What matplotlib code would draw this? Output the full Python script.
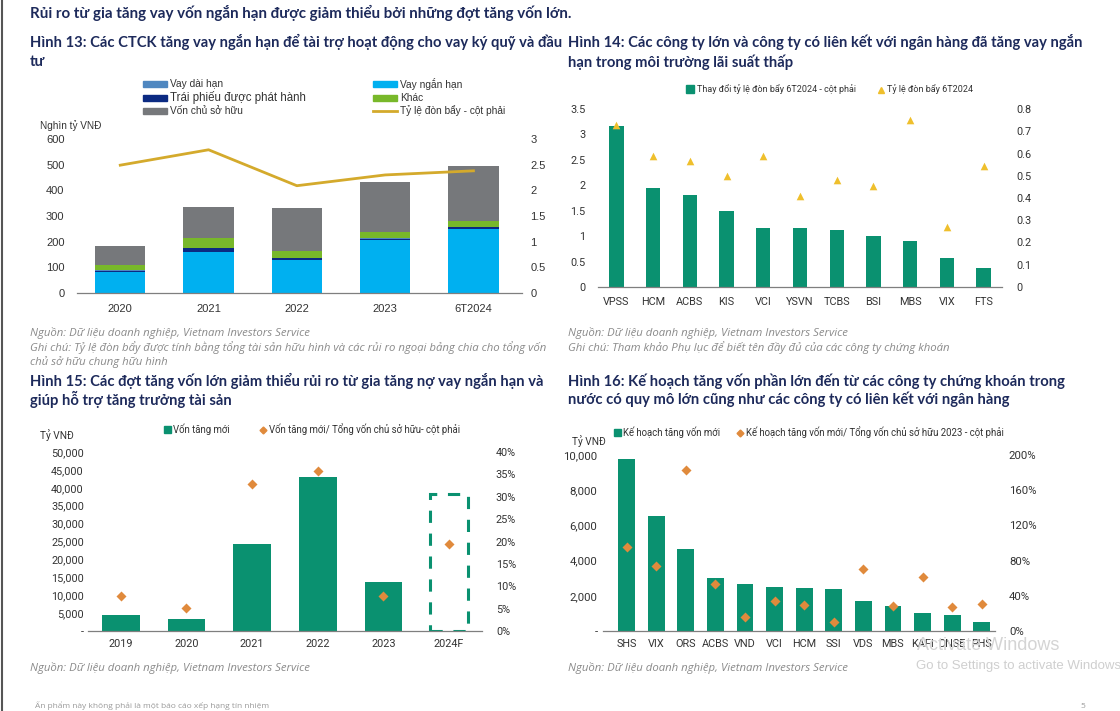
import matplotlib
matplotlib.use("Agg")
import matplotlib.pyplot as plt
from matplotlib.patches import Rectangle
from matplotlib.lines import Line2D
from matplotlib.ticker import FuncFormatter
import numpy as np

W, H = 1120, 711
plt.rcParams['font.family'] = ['Open Sans', 'DejaVu Sans']

# ---------------- data ----------------
# Hình 13
years13 = ['2020', '2021', '2022', '2023', '6T2024']
vay_dai_han = [1, 1, 1, 1, 1]
vay_ngan_han = [80, 158, 127, 205, 250]
trai_phieu = [7, 17, 9, 7, 8]
khac = [21, 40, 27, 26, 23]
von_csh = [74, 118, 168, 194, 214]
don_bay = [2.49, 2.79, 2.09, 2.30, 2.38]

# Hình 14
cos14 = ['VPSS', 'HCM', 'ACBS', 'KIS', 'VCI', 'YSVN', 'TCBS', 'BSI', 'MBS', 'VIX', 'FTS']
thay_doi_db = [3.16, 1.95, 1.81, 1.49, 1.16, 1.16, 1.12, 1.01, 0.90, 0.58, 0.38]
ty_le_db = [0.73, 0.59, 0.567, 0.50, 0.59, 0.41, 0.48, 0.455, 0.75, 0.27, 0.545]

# Hình 15
years15 = ['2019', '2020', '2021', '2022', '2023', '2024F']
von_tang_moi = [4400, 3300, 24250, 43000, 13600, 0]
von_tang_ratio = [0.078, 0.051, 0.328, 0.357, 0.079, 0.194]
forecast_box = 38300

# Hình 16
cos16 = ['SHS', 'VIX', 'ORS', 'ACBS', 'VND', 'VCI', 'HCM', 'SSI', 'VDS', 'MBS', 'KAFI', 'DNSE', 'PHS']
ke_hoach = [9770, 6530, 4650, 3020, 2680, 2490, 2450, 2370, 1730, 1440, 1030, 910, 510]
ke_hoach_ratio = [0.953, 0.744, 1.825, 0.535, 0.163, 0.338, 0.30, 0.106, 0.706, 0.288, 0.615, 0.273, 0.311]

# ---------------- styles ----------------
NAVY_T = '#1d2a5b'
GRAY_T = '#8a8a8a'
TICK_C = '#333333'
GREEN = '#0a9170'
ORANGE = '#e08a3c'
YELLOW = '#efbf2c'

fig = plt.figure(figsize=(W / 100, H / 100), dpi=100)
fig.patch.set_facecolor('white')


def ax_px(l, t, r, b):
    return fig.add_axes([l / W, 1 - b / H, (r - l) / W, (b - t) / H])


def txt(x, y, s, **kw):
    kw.setdefault('va', 'center')
    fig.text(x / W, 1 - y / H, s, **kw)


def title(x, y, s, size=10.6):
    txt(x, y, s, fontsize=size, fontweight='bold', color=NAVY_T, family=['Lato', 'DejaVu Sans'])


def source(x, y, s):
    txt(x, y, s, fontsize=8.2, style='italic', color=GRAY_T)


def style_axes(ax, ax2, fam, fs=8):
    for a in (ax, ax2):
        for s in ('top', 'left', 'right', 'bottom'):
            a.spines[s].set_visible(False)
        a.tick_params(length=0, labelsize=fs, colors=TICK_C)
        for lab in a.get_xticklabels() + a.get_yticklabels():
            lab.set_family(fam)
    ax.axhline(0, color='#7f7f7f', lw=0.9, zorder=5, clip_on=False)


# header
title(30, 13, 'Rủi ro từ gia tăng vay vốn ngắn hạn được giảm thiểu bởi những đợt tăng vốn lớn.', size=10.9)

# ---------------- Hình 13 ----------------
title(30, 42, 'Hình 13: Các CTCK tăng vay ngắn hạn để tài trợ hoạt động cho vay ký quỹ và đầu')
title(30, 62, 'tư')
ax = ax_px(77, 139, 522, 293)
x = np.arange(len(years13))
bw = 0.57
c_nh, c_tp, c_dh, c_kh, c_cs = '#00b0f0', '#0b2a82', '#4f87c0', '#78b82a', '#76787b'
bottom = np.zeros(len(x))
for vals, col in [(vay_ngan_han, c_nh), (trai_phieu, c_tp), (vay_dai_han, c_dh), (khac, c_kh), (von_csh, c_cs)]:
    ax.bar(x, vals, bw, bottom=bottom, color=col, zorder=2)
    bottom += np.array(vals)
ax.set_ylim(0, 600)
ax.set_yticks(range(0, 601, 100))
ax.set_xlim(-0.49, 4.55)
ax.set_xticks(x)
ax.set_xticklabels(years13)
ax2 = ax.twinx()
ax2.plot(x, don_bay, color='#d4aa2c', lw=2, zorder=3)
ax2.set_ylim(0, 3)
ax2.set_yticks([0, 0.5, 1, 1.5, 2, 2.5, 3])
ax2.set_yticklabels(['0', '0.5', '1', '1.5', '2', '2.5', '3'])
style_axes(ax, ax2, 'Liberation Sans', 8)
ax.tick_params(axis='y', pad=9)
ax.tick_params(axis='x', pad=8)
ax2.tick_params(axis='y', pad=6)
txt(40, 126, 'Nghìn tỷ VNĐ', fontsize=7.2, color=TICK_C, family='Liberation Sans')
# legend 13
leg13 = [(143, 84, c_dh, 'Vay dài hạn', 'p'), (143, 98, c_tp, 'Trái phiếu được phát hành', 'p'),
         (143, 111, c_cs, 'Vốn chủ sở hữu', 'p'), (373, 84, c_nh, 'Vay ngắn hạn', 'p'),
         (373, 98, c_kh, 'Khác', 'p'), (373, 111, '#d4aa2c', 'Tỷ lệ đòn bẩy - cột phải', 'l')]
for lx, ly, col, lab, kind in leg13:
    if kind == 'p':
        fig.patches.append(Rectangle((lx / W, 1 - (ly + 3) / H), 24 / W, 6 / H, color=col,
                                     transform=fig.transFigure, figure=fig))
    else:
        fig.lines.append(Line2D([lx / W, (lx + 24) / W], [1 - ly / H] * 2, color=col, lw=2,
                                transform=fig.transFigure, figure=fig))
    fs = 8.3 if 'Trái' in lab else 7.3
    txt(lx + 27, ly, lab, fontsize=fs, color=TICK_C, family='Liberation Sans')

source(30, 333, 'Nguồn: Dữ liệu doanh nghiệp, Vietnam Investors Service')
source(30, 348, 'Ghi chú: Tỷ lệ đòn bẩy được tính bằng tổng tài sản hữu hình và các rủi ro ngoại bảng chia cho tổng vốn')
source(30, 362, 'chủ sở hữu chung hữu hình')

# ---------------- Hình 14 ----------------
title(568, 42, 'Hình 14: Các công ty lớn và công ty có liên kết với ngân hàng đã tăng vay ngắn')
title(568, 62, 'hạn trong môi trường lãi suất thấp')
ax = ax_px(598, 109, 1002, 287)
x = np.arange(len(cos14))
ax.bar(x, thay_doi_db, 0.39, color=GREEN, zorder=2)
ax.set_ylim(0, 3.5)
ax.set_yticks([0, 0.5, 1, 1.5, 2, 2.5, 3, 3.5])
ax.set_yticklabels(['0', '0.5', '1', '1.5', '2', '2.5', '3', '3.5'])
ax.set_xlim(-0.5, 10.5)
ax.set_xticks(x)
ax.set_xticklabels(cos14)
ax2 = ax.twinx()
ax2.scatter(x, ty_le_db, marker='^', s=30, color=YELLOW, zorder=3, linewidths=0)
ax2.set_ylim(0, 0.8)
ax2.set_yticks(np.arange(0, 0.81, 0.1))
ax2.set_yticklabels(['0', '0.1', '0.2', '0.3', '0.4', '0.5', '0.6', '0.7', '0.8'])
style_axes(ax, ax2, 'Roboto', 7.8)
ax.tick_params(axis='y', pad=9)
ax.tick_params(axis='x', pad=7)
ax2.tick_params(axis='y', pad=10)
fig.patches.append(Rectangle((686 / W, 1 - 93 / H), 8 / W, 8 / H, color=GREEN,
                             transform=fig.transFigure, figure=fig))
txt(697, 89, 'Thay đổi tỷ lệ đòn bẩy 6T2024 - cột phải', fontsize=6.5, color=TICK_C, family='Roboto')
fig.lines.append(Line2D([881 / W], [1 - 90 / H], marker='^', ms=4.5, color=YELLOW, ls='none',
                        transform=fig.transFigure, figure=fig))
txt(887, 89, 'Tỷ lệ đòn bẩy 6T2024', fontsize=6.5, color=TICK_C, family='Roboto')
source(568, 333, 'Nguồn: Dữ liệu doanh nghiệp, Vietnam Investors Service')
source(568, 348, 'Ghi chú: Tham khảo Phụ lục để biết tên đầy đủ của các công ty chứng khoán')

# ---------------- Hình 15 ----------------
title(30, 381, 'Hình 15: Các đợt tăng vốn lớn giảm thiểu rủi ro từ gia tăng nợ vay ngắn hạn và')
title(30, 399, 'giúp hỗ trợ tăng trưởng tài sản')
ax = ax_px(88, 452, 482, 631)
x = np.arange(len(years15))
ax.bar(x, von_tang_moi, 0.57, color=GREEN, zorder=2)
ax.add_patch(Rectangle((x[-1] - 0.285, 0), 0.57, forecast_box, fill=False, ec=GREEN, lw=2.2,
                       ls=(0, (4, 3.5)), zorder=3))
ax.set_ylim(0, 50000)
ax.set_yticks(range(0, 50001, 5000))
ax.yaxis.set_major_formatter(FuncFormatter(lambda v, p: '-' if v == 0 else f'{int(v):,}'))
ax.set_xlim(-0.5, 5.5)
ax.set_xticks(x)
ax.set_xticklabels(years15)
ax2 = ax.twinx()
ax2.scatter(x, von_tang_ratio, marker='D', s=26, color=ORANGE, zorder=4, linewidths=0)
ax2.set_ylim(0, 0.40)
ax2.set_yticks(np.arange(0, 0.401, 0.05))
ax2.yaxis.set_major_formatter(FuncFormatter(lambda v, p: f'{v * 100:.0f}%'))
style_axes(ax, ax2, 'Roboto', 7.8)
ax.tick_params(axis='y', pad=3)
ax.tick_params(axis='x', pad=6)
ax2.tick_params(axis='y', pad=10)
txt(40, 435, 'Tỷ VNĐ', fontsize=7.3, color=TICK_C, family='Roboto')
fig.patches.append(Rectangle((164 / W, 1 - 433 / H), 7 / W, 7 / H, color=GREEN,
                             transform=fig.transFigure, figure=fig))
txt(173, 429, 'Vốn tăng mới', fontsize=6.9, color=TICK_C, family='Roboto')
fig.lines.append(Line2D([263 / W], [1 - 430 / H], marker='D', ms=3.5, color=ORANGE, ls='none',
                        transform=fig.transFigure, figure=fig))
txt(269, 429, 'Vốn tăng mới/ Tổng vốn chủ sở hữu- cột phải', fontsize=6.9, color=TICK_C, family='Roboto')
source(30, 668, 'Nguồn: Dữ liệu doanh nghiệp, Vietnam Investors Service')

# ---------------- Hình 16 ----------------
title(568, 381, 'Hình 16: Kế hoạch tăng vốn phần lớn đến từ các công ty chứng khoán trong')
title(568, 399, 'nước có quy mô lớn cũng như các công ty có liên kết với ngân hàng')
ax = ax_px(603, 455, 995, 631)
x = np.arange(len(cos16))
ax.bar(x, ke_hoach, 0.57, color=GREEN, zorder=2)
ax.set_ylim(0, 10000)
ax.set_yticks(range(0, 10001, 2000))
ax.yaxis.set_major_formatter(FuncFormatter(lambda v, p: '-' if v == 0 else f'{int(v):,}'))
ax.set_xlim(-0.8, 12.45)
ax.set_xticks(x)
ax.set_xticklabels(cos16)
ax2 = ax.twinx()
ax2.scatter(x, ke_hoach_ratio, marker='D', s=26, color=ORANGE, zorder=4, linewidths=0)
ax2.set_ylim(0, 2.0)
ax2.set_yticks(np.arange(0, 2.01, 0.4))
ax2.yaxis.set_major_formatter(FuncFormatter(lambda v, p: f'{v * 100:.0f}%'))
style_axes(ax, ax2, 'Roboto', 8.2)
ax.tick_params(axis='x', labelsize=7.8)
ax.tick_params(axis='y', pad=4)
ax.tick_params(axis='x', pad=6)
ax2.tick_params(axis='y', pad=10)
txt(572, 441, 'Tỷ VNĐ', fontsize=7.3, color=TICK_C, family='Roboto')
fig.patches.append(Rectangle((614 / W, 1 - 436 / H), 7 / W, 7 / H, color=GREEN,
                             transform=fig.transFigure, figure=fig))
txt(623, 432, 'Kế hoạch tăng vốn mới', fontsize=6.9, color=TICK_C, family='Roboto')
fig.lines.append(Line2D([740 / W], [1 - 433 / H], marker='D', ms=3.5, color=ORANGE, ls='none',
                        transform=fig.transFigure, figure=fig))
txt(746, 432, 'Kế hoạch tăng vốn mới/ Tổng vốn chủ sở hữu 2023 - cột phải', fontsize=6.9,
    color=TICK_C, family='Roboto')
source(568, 668, 'Nguồn: Dữ liệu doanh nghiệp, Vietnam Investors Service')

# footer / screen artifacts
txt(35, 706, 'Ấn phẩm này không phải là một báo cáo xếp hạng tín nhiệm', fontsize=6, color='#9a9a9a')
txt(1080, 706, '5', fontsize=6, color='#9a9a9a')
txt(917, 645, 'Activate Windows', fontsize=13, color='#d4d4d4', family='Liberation Sans', zorder=0)
txt(916, 666, 'Go to Settings to activate Windows', fontsize=9.5, color='#cfcfcf', family='Liberation Sans')
fig.lines.append(Line2D([1.5 / W, 1.5 / W], [0, 1], color='#555555', lw=1.5,
                        transform=fig.transFigure, figure=fig))

fig.savefig('out.png', dpi=100, facecolor='white')
